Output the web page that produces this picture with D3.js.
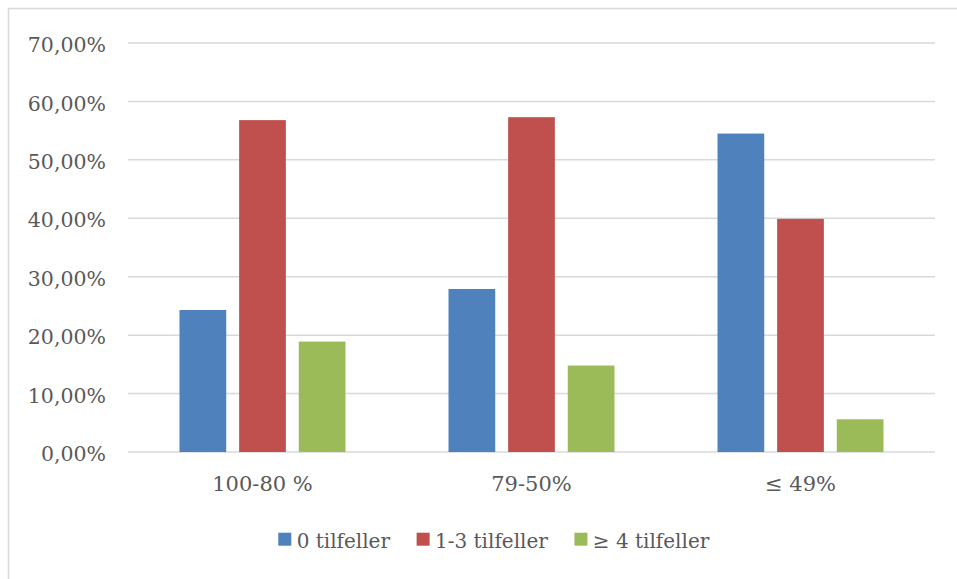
<!DOCTYPE html>
<html>
<head>
<meta charset="utf-8">
<script src="https://cdn.jsdelivr.net/npm/d3@7"></script>
<style>
  html, body { margin: 0; padding: 0; background: #fff; }
  svg { display: block; }
  text { font-family: "DejaVu Serif", "Liberation Serif", serif; fill: #595959; }
</style>
</head>
<body>
<svg id="chart" width="957" height="579"></svg>
<script>
// Share of cases per compliance band
const categories = ["100-80 %", "79-50%", "≤ 49%"];
const seriesNames = ["0 tilfeller", "1-3 tilfeller", "≥ 4 tilfeller"];
const seriesColors = ["#4F81BD", "#C0504D", "#9BBB59"];
const zeroCases = [24.3, 27.9, 54.5];
const oneToThree = [56.8, 57.3, 39.9];
const fourPlus = [18.9, 14.8, 5.6];
const yTicks = [0, 10, 20, 30, 40, 50, 60, 70];

const seriesValues = [zeroCases, oneToThree, fourPlus];

const svg = d3.select("#chart");
const plot = { left: 128, right: 935, top: 43, bottom: 452 };

// Outer chart frame
svg.append("rect")
  .attr("x", 8.5).attr("y", 8.5)
  .attr("width", 1000).attr("height", 600)
  .attr("fill", "none")
  .attr("stroke", "#d9d9d9")
  .attr("stroke-width", 1.5);

const y = d3.scaleLinear().domain([0, 70]).range([plot.bottom, plot.top]);
const x0 = d3.scaleBand().domain(categories).range([plot.left, plot.right]).padding(0);
const groupInset = 51.5;
const x1 = d3.scaleBand().domain(seriesNames)
  .range([groupInset, x0.bandwidth() - groupInset])
  .paddingInner(0.2164).paddingOuter(0);

const fmt = v => d3.format(".2f")(v).replace(".", ",") + "%";

// Horizontal gridlines
svg.append("g")
  .selectAll("line")
  .data(yTicks)
  .join("line")
  .attr("x1", plot.left).attr("x2", plot.right)
  .attr("y1", d => y(d)).attr("y2", d => y(d))
  .attr("stroke", "#d9d9d9")
  .attr("stroke-width", 1.5);

// Y axis labels
const yAxis = d3.axisLeft(y).tickValues(yTicks).tickFormat(fmt).tickSize(0).tickPadding(0);
const yg = svg.append("g").attr("transform", "translate(106,0)").call(yAxis);
yg.select(".domain").remove();
yg.selectAll("text")
  .attr("font-family", null)
  .style("font-size", "20.5px")
  .attr("dy", "0.42em")
  .attr("fill", "#595959");

// Bars
const groups = svg.append("g")
  .selectAll("g")
  .data(categories)
  .join("g")
  .attr("transform", d => `translate(${x0(d)},0)`);

groups.selectAll("rect")
  .data((c, ci) => seriesNames.map((s, si) => ({ s, si, v: seriesValues[si][ci] })))
  .join("rect")
  .attr("x", d => x1(d.s))
  .attr("width", x1.bandwidth())
  .attr("y", d => y(d.v))
  .attr("height", d => y(0) - y(d.v))
  .attr("fill", d => seriesColors[d.si]);

// X axis labels
const xAxis = d3.axisBottom(x0).tickSize(0).tickPadding(0);
const xg = svg.append("g").attr("transform", `translate(0,${plot.bottom})`).call(xAxis);
xg.select(".domain").remove();
xg.selectAll("text")
  .attr("font-family", null)
  .style("font-size", "21px")
  .attr("y", 39)
  .attr("dy", 0)
  .attr("fill", "#595959");

// Legend
const legend = svg.append("g");
const items = legend.selectAll("g")
  .data(seriesNames)
  .join("g");
items.append("rect")
  .attr("width", 13).attr("height", 13)
  .attr("y", 532.7)
  .attr("fill", (d, i) => seriesColors[i]);
items.append("text")
  .attr("y", 547.5)
  .style("font-size", "20px")
  .text(d => d);

let cursor = 0;
items.each(function () {
  const g = d3.select(this);
  const w = g.select("text").node().getComputedTextLength();
  g.select("rect").attr("x", cursor);
  g.select("text").attr("x", cursor + 18.4);
  cursor += 18.4 + w + 26.6;
});
const legendWidth = cursor - 26.6;
legend.attr("transform", `translate(${493.8 - legendWidth / 2},0)`);
</script>
</body>
</html>
